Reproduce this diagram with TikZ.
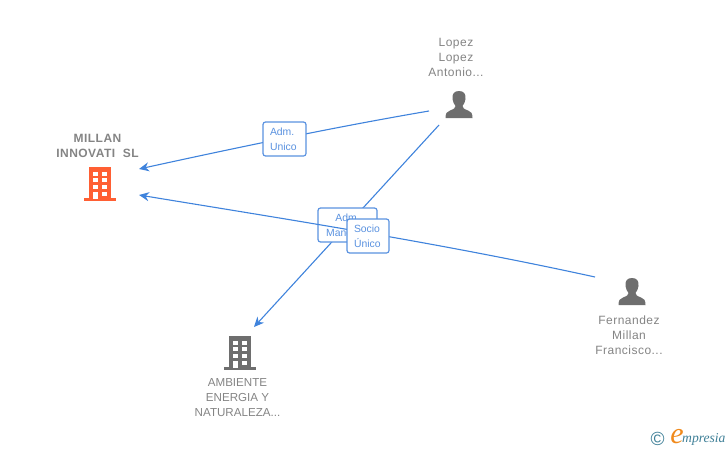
\documentclass[tikz,border=0pt]{standalone}
\usepackage{fontspec}
\setmainfont{Liberation Sans}
\newfontfamily\spacedfont[LetterSpace=4]{Liberation Sans}
\newfontfamily\logofont{Liberation Serif}
\usetikzlibrary{arrows.meta}
\definecolor{edgeblue}{HTML}{3F83DC}
\definecolor{boxblue}{HTML}{5A92E0}
\definecolor{labelgrey}{HTML}{848484}
\definecolor{icongrey}{HTML}{6E6E6E}
\definecolor{iconorange}{HTML}{FF5F33}
\definecolor{logoteal}{HTML}{3E7F97}
\definecolor{logoorange}{HTML}{F08A1D}
\tikzset{
  x=1pt,y=-1pt,
  conn/.style={draw=edgeblue,line width=1.1pt,-{Stealth[length=10pt,width=9pt]}},
  rel/.style={draw=boxblue,line width=1.2pt,fill=white,rounded corners=2.5pt,text=boxblue,
    font=\fontsize{10.4}{15}\selectfont,inner sep=0pt,align=left},
  nlabel/.style={text=labelgrey,font=\fontsize{12}{15}\spacedfont,align=center,inner sep=0pt},
  plabel/.style={text=labelgrey,font=\fontsize{11.6}{15}\selectfont,align=center,inner sep=0pt},
  blabel/.style={text=labelgrey,font=\fontsize{12}{15}\spacedfont\bfseries,align=center,inner sep=0pt},
  pics/building/.style={code={
    \fill[#1] (-16,31) rectangle (16,34);
    \fill[#1] (-11,0) rectangle (11,32);
    \foreach \yy in {4.5,11,18}{
      \fill[white] (-7,\yy) rectangle (-2.5,\yy+4);
      \fill[white] (2,\yy) rectangle (7,\yy+4);
    }
    \fill[white] (-7,25) rectangle (-2.5,31.5);
    \fill[white] (2,25) rectangle (7,29);
  }},
  pics/person/.style={code={
    \fill[icongrey] (0,0) .. controls (-5,0) and (-7,3) .. (-6.5,8)
      .. controls (-6.2,11) and (-5,13) .. (-3.5,15)
      .. controls (-3.5,17) and (-5,18) .. (-9,19.5)
      .. controls (-12,20.5) and (-13.5,22) .. (-13.5,27)
      -- (13.5,27)
      .. controls (13.5,22) and (12,20.5) .. (9,19.5)
      .. controls (5,18) and (3.5,17) .. (3.5,15)
      .. controls (5,13) and (6.2,11) .. (6.5,8)
      .. controls (7,3) and (5,0) .. (0,0) -- cycle;
  }},
}
\begin{document}
\begin{tikzpicture}
\useasboundingbox (0,0) rectangle (728,450);
% labels
\node[blabel] (millan) at (97.5,145.5) {MILLAN\\INNOVATI\ \ SL};
\node[nlabel] (lopez) at (456,57) {Lopez\\Lopez\\Antonio...};
\node[plabel] (ambiente) at (237.5,397.5) {AMBIENTE\\ENERGIA Y\\NATURALEZA...};
\node[nlabel] (fernandez) at (629,335) {Fernandez\\Millan\\Francisco...};
% icons
\pic at (100,167) {building=iconorange};
\pic at (240,336) {building=icongrey};
\pic at (459,91) {person};
\pic at (632,278) {person};
% connector ends
\coordinate (lopezA) at (429,111);
\coordinate (lopezB) at (439,125);
\coordinate (fernA) at (595,277);
\coordinate (millanA) at (139,169);
\coordinate (millanB) at (139,195);
\coordinate (ambA) at (254,327);
% connectors and their labels
\draw[conn] (lopezA) .. controls (335,127) and (235,148) .. (millanA);
\node[rel,minimum width=43pt,minimum height=34pt,text width=29pt] (adm) at (284.5,139) {Adm.\\Unico};
\draw[conn] (lopezB) -- (ambA);
\node[rel,minimum width=59pt,minimum height=34pt,text width=45pt,align=center] (mancom) at (347.5,225) {Adm.\\Mancom.};
\draw[conn] (fernA) .. controls (440,243) and (285,219) .. (millanB);
\node[rel,minimum width=42pt,minimum height=34pt,text width=28pt] (socio) at (368,236) {Socio\\Único};
% logo
\node[inner sep=0pt,text=logoteal,font=\fontsize{19}{19}\selectfont] (copy) at (657.5,438.5) {©};
\node[inner sep=0pt,text=logoorange,font=\fontsize{30}{30}\logofont\itshape] (elogo) at (677,436.5) {e};
\node[inner sep=0pt,text=logoteal,font=\fontsize{13.6}{14}\logofont\itshape,anchor=west] (mpresia) at (682,439.5) {mpresia};
\end{tikzpicture}
\end{document}
